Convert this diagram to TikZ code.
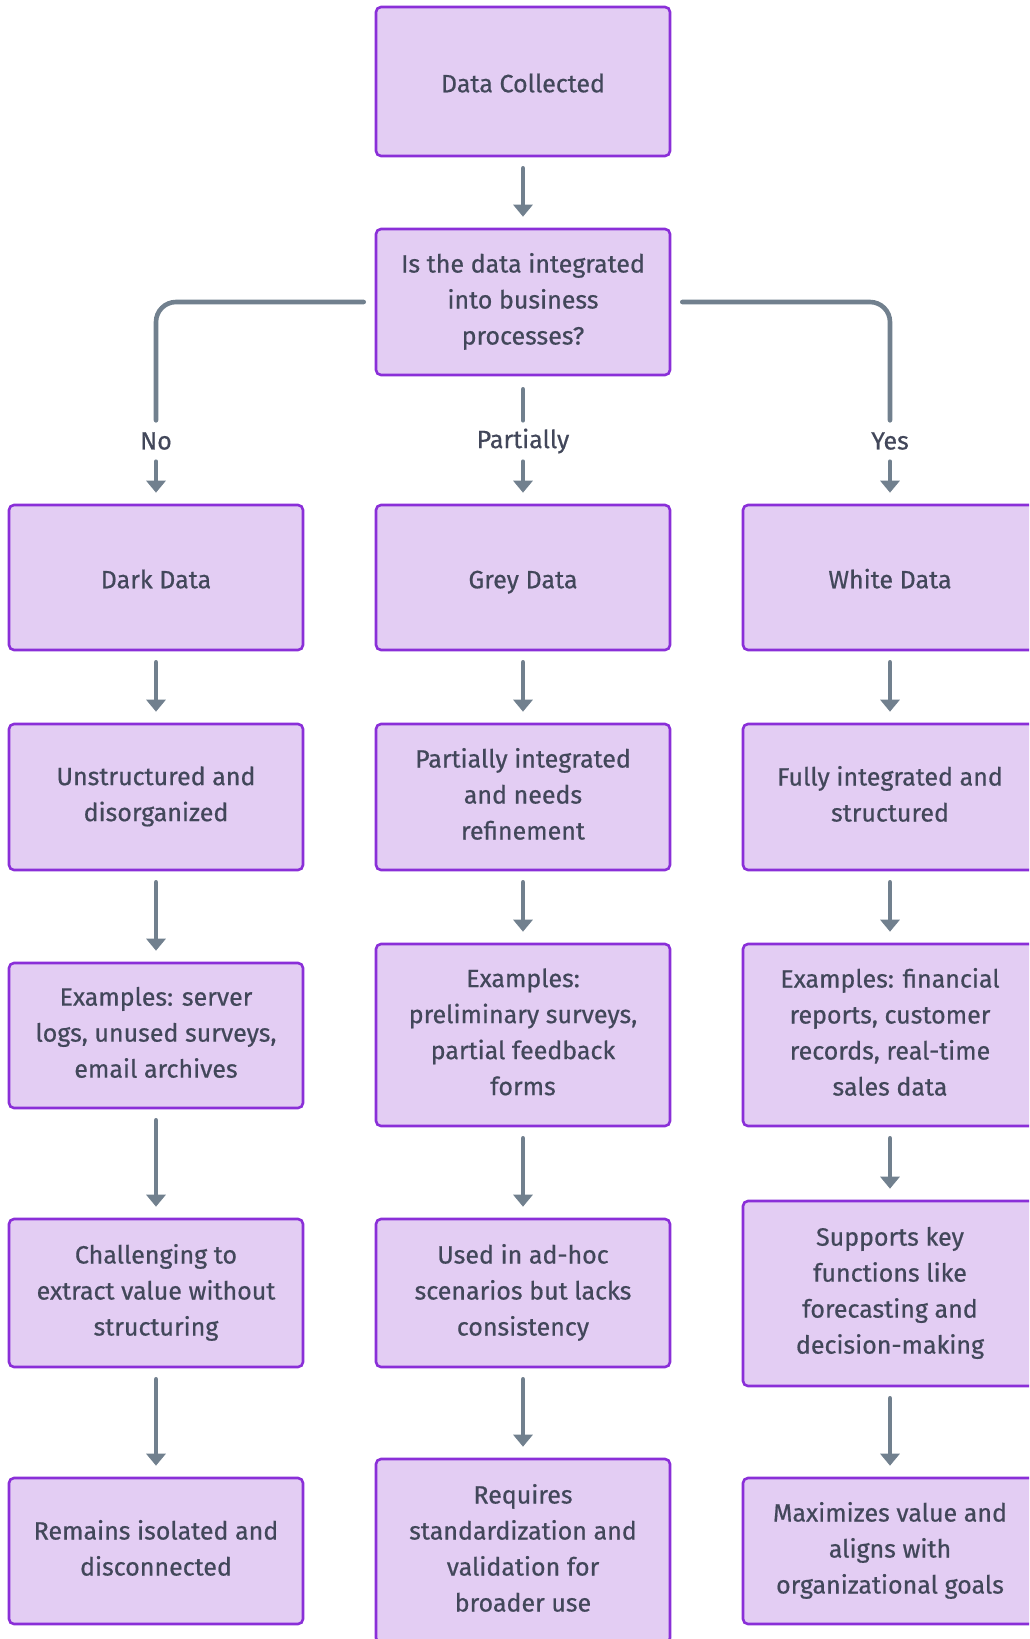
\documentclass[tikz,border=0pt]{standalone}
\usepackage{fontspec}
\setmainfont[FakeBold=0.6]{Fira Sans}
\usetikzlibrary{arrows.meta}
\definecolor{boxfill}{HTML}{E3CDF3}
\definecolor{boxline}{HTML}{8A2FD8}
\definecolor{connector}{HTML}{71808E}
\definecolor{ink}{HTML}{42475A}
% struts that fix the first and last line of a box
\newcommand{\topstrut}{\rule{0pt}{29.5pt}}
\newcommand{\botstrut}{\rule[-6.5pt]{0pt}{6.5pt}}
\newcommand{\linestrut}{\rule[-8pt]{0pt}{33pt}}
\tikzset{
  stage/.style={draw=boxline, fill=boxfill, line width=2.6pt, rounded corners=5pt,
    minimum width=294pt, align=center, text=ink, inner sep=0pt,
    font=\fontsize{25}{36}\selectfont,
    execute at begin node=\topstrut, execute at end node=\botstrut},
  oneline/.style={execute at begin node=\linestrut, execute at end node={}},
  conn/.style={draw=connector, line width=4.6pt, line cap=round},
  arr/.style={conn, -{Triangle[width=19pt,length=12pt]}},
  branchlabel/.style={text=ink, inner sep=0pt, minimum height=41pt,
    font=\fontsize{25}{36}\selectfont},
}
\begin{document}
\begin{tikzpicture}[x=1pt, y=-1pt]
\useasboundingbox (0,0) rectangle (1029,1639);
\clip (0,0) rectangle (1029,1639);
\fill[white] (0,0) rectangle (1029,1639);

% top of the flow
\node[stage, oneline, minimum height=149pt] (dc) at (523,81.5) {Data Collected};
\node[stage, minimum height=146pt] (q) at (523,302) {Is the data integrated\\into business\\processes?};

% branch labels
\node[branchlabel] (no) at (156,441) {No};
\node[branchlabel] (part) at (523,441) {Partially};
\node[branchlabel] (yes) at (890,441) {Yes};

% first row of each branch
\node[stage, oneline, minimum height=145pt] (dark) at (156,577.5) {Dark Data};
\node[stage, oneline, minimum height=145pt] (grey) at (523,577.5) {Grey Data};
\node[stage, oneline, minimum height=145pt] (white) at (890,577.5) {White Data};

% characteristics
\node[stage, minimum height=146pt] (d2) at (156,797) {Unstructured and\\disorganized};
\node[stage, minimum height=146pt] (g2) at (523,797) {Partially integrated\\and needs\\refinement};
\node[stage, minimum height=146pt] (w2) at (890,797) {Fully integrated and\\structured};

% examples
\node[stage, minimum height=145pt] (d3) at (156,1035.5) {Examples: server\\logs, unused surveys,\\email archives};
\node[stage, minimum height=182pt] (g3) at (523,1035) {Examples:\\preliminary surveys,\\partial feedback\\forms};
\node[stage, minimum height=182pt] (w3) at (890,1035) {Examples: financial\\reports, customer\\records, real-time\\sales data};

% usage
\node[stage, minimum height=148pt] (d4) at (156,1293) {Challenging to\\extract value without\\structuring};
\node[stage, minimum height=148pt] (g4) at (523,1293) {Used in ad-hoc\\scenarios but lacks\\consistency};
\node[stage, minimum height=185pt] (w4) at (890,1293.5) {Supports key\\functions like\\forecasting and\\decision-making};

% outcome
\node[stage, minimum height=146pt] (d5) at (156,1551) {Remains isolated and\\disconnected};
\node[stage, minimum height=184pt] (g5) at (523,1551) {Requires\\standardization and\\validation for\\broader use};
\node[stage, minimum height=146pt] (w5) at (890,1551) {Maximizes value and\\aligns with\\organizational goals};

% connectors
\draw[arr] ([yshift=-11pt]dc.south) -- ([yshift=11pt]q.north);
\draw[conn, rounded corners=20pt] ([xshift=-11pt]q.west) -| (no.north);
\draw[conn] ([yshift=-13pt]q.south) -- (part.north);
\draw[conn, rounded corners=20pt] ([xshift=11pt]q.east) -| (yes.north);
\draw[arr] (no.south) -- ([yshift=11pt]dark.north);
\draw[arr] (part.south) -- ([yshift=11pt]grey.north);
\draw[arr] (yes.south) -- ([yshift=11pt]white.north);

\foreach \a/\b in {dark/d2, d2/d3, d3/d4, d4/d5,
                   grey/g2, g2/g3, g3/g4, g4/g5,
                   white/w2, w2/w3, w3/w4, w4/w5}
  \draw[arr] ([yshift=-11pt]\a.south) -- ([yshift=11pt]\b.north);
\end{tikzpicture}
\end{document}
